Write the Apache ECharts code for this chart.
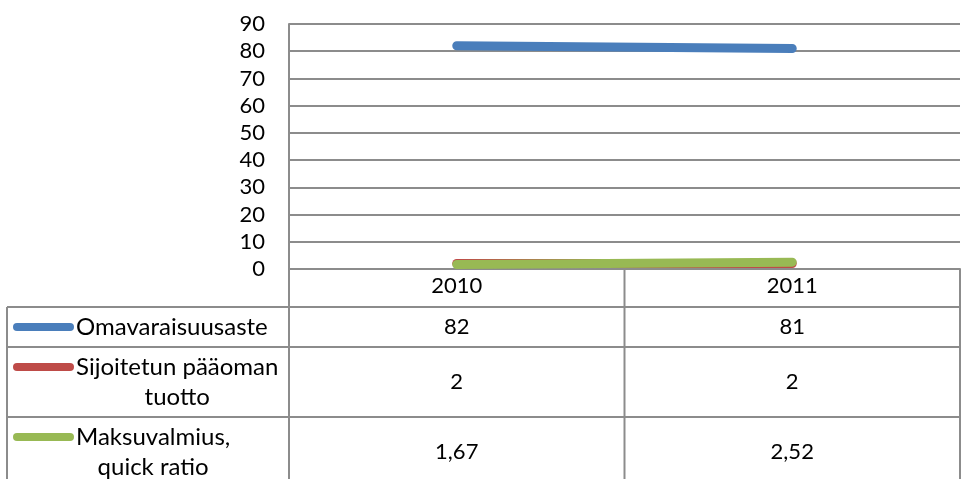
<!DOCTYPE html>
<html><head><meta charset="utf-8">
<script src="https://cdn.jsdelivr.net/npm/echarts@6/dist/echarts.min.js"></script>
<style>html,body{margin:0;padding:0;background:#fff}#c{width:962px;height:479px}</style>
</head><body><div id="c"></div>
<script>
// ---- data ----
const years = ['2010', '2011'];
const seriesNames = ['Omavaraisuusaste', 'Sijoitetun pääoman\ntuotto', 'Maksuvalmius,\nquick ratio'];
const omavaraisuusaste = [82, 81];
const sijoitetunPaaomanTuotto = [2, 2];
const maksuvalmius = [1.67, 2.52];
const yMin = 0, yMax = 90, yInterval = 10;

const seriesData = [omavaraisuusaste, sijoitetunPaaomanTuotto, maksuvalmius];
const colors = ['#4a7ebb', '#be4b48', '#98b954'];
const FONT = 'Lato';
const grey = '#8c8c8c';

const fmt = v => String(v).replace('.', ',');

const chart = echarts.init(document.getElementById('c'), null, {renderer: 'canvas'});
const gridL = 289, gridR = 960, gridT = 24, gridB = 269;
const W = 962, H = 479;

chart.setOption({
  animation: false,
  backgroundColor: '#fff',
  grid: {left: gridL, right: W - gridR, top: gridT, bottom: H - gridB, containLabel: false},
  xAxis: {
    type: 'category', data: years, boundaryGap: true,
    axisLine: {show: true, lineStyle: {color: grey, width: 2}},
    axisTick: {show: false},
    axisLabel: {color: '#000', fontFamily: FONT, fontSize: 22, margin: 6},
    splitLine: {show: false}
  },
  yAxis: {
    type: 'value', min: yMin, max: yMax, interval: yInterval,
    axisLine: {show: true, lineStyle: {color: grey, width: 2}},
    axisTick: {show: false},
    axisLabel: {color: '#000', fontFamily: FONT, fontSize: 22, margin: 24},
    splitLine: {show: true, lineStyle: {color: grey, width: 2}}
  },
  series: seriesData.map((d, i) => ({
    type: 'line', name: seriesNames[i], data: d, showSymbol: false, symbol: 'none',
    lineStyle: {color: colors[i], width: 9, cap: 'round', join: 'round'},
    itemStyle: {color: colors[i]}, z: 3 + i
  }))
});

// ---- data table (layout) ----
const ctx = document.createElement('canvas').getContext('2d');
ctx.font = '24px ' + FONT;
const catX = years.map(y => chart.convertToPixel({xAxisIndex: 0}, y));
const colW = (gridR - gridL) / years.length;
const tableLeft = 7;
const rowLines = [307, 347, 417];
const rowCenters = [327, 382, 452];
const lineH = 30;
const g = [];
const ln = (x1, y1, x2, y2, z) => g.push({type: 'line', shape: {x1, y1, x2, y2}, style: {stroke: grey, lineWidth: 2}, z: z || 1, silent: true});
// vertical lines
for (let i = 0; i <= years.length; i++) {
  const x = gridL + i * colW;
  ln(x, i === 0 ? gridT : gridB, x, H);
}
ln(tableLeft, rowLines[0], tableLeft, H);
rowLines.forEach(y => ln(tableLeft, y, gridR, y));

seriesNames.forEach((name, i) => {
  const lines = name.split('\n');
  const wMax = Math.max(...lines.map(s => ctx.measureText(s).width));
  const cy = rowCenters[i];
  const top = cy - lines.length * lineH / 2;
  const symY = top + lineH / 2;
  g.push({type: 'line', shape: {x1: 17, y1: symY, x2: 70, y2: symY},
    style: {stroke: colors[i], lineWidth: 8, lineCap: 'round'}, z: 5, silent: true});
  g.push({type: 'text', x: 76 + wMax / 2, y: cy,
    style: {text: name, font: '24px ' + FONT, fill: '#000', align: 'center', verticalAlign: 'middle', lineHeight: lineH}, z: 5, silent: true});
  seriesData[i].forEach((v, j) => {
    g.push({type: 'text', x: catX[j], y: cy,
      style: {text: fmt(v), font: '22px ' + FONT, fill: '#000', align: 'center', verticalAlign: 'middle'}, z: 5, silent: true});
  });
});
chart.setOption({graphic: g});
</script></body></html>
